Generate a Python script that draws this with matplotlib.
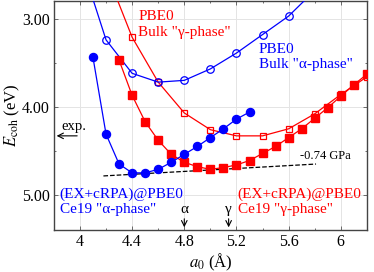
import matplotlib
matplotlib.use('Agg')
import matplotlib.pyplot as plt
from matplotlib.ticker import MultipleLocator

plt.rcParams['font.family'] = ['Liberation Serif', 'DejaVu Serif']
plt.rcParams['mathtext.fontset'] = 'stix'

# PBE0 bulk, alpha phase (open circles)
a_bulk_alpha = [4.0, 4.2, 4.4, 4.6, 4.8, 5.0, 5.2, 5.4, 5.6, 5.8]
e_bulk_alpha = [2.32, 3.24, 3.62, 3.72, 3.70, 3.57, 3.39, 3.18, 2.97, 2.68]

# PBE0 bulk, gamma phase (open squares)
a_bulk_gamma = [4.2, 4.4, 4.6, 4.8, 5.0, 5.2, 5.4, 5.6, 5.8, 6.0, 6.2]
e_bulk_gamma = [2.46, 3.21, 3.72, 4.07, 4.26, 4.33, 4.33, 4.25, 4.08, 3.86, 3.66]

# (EX+cRPA)@PBE0 Ce19, alpha phase (filled circles)
a_ce19_alpha = [4.1, 4.2, 4.3, 4.4, 4.5, 4.6, 4.7, 4.8, 4.9, 5.0, 5.1, 5.2, 5.3]
e_ce19_alpha = [3.44, 4.31, 4.65, 4.75, 4.75, 4.71, 4.63, 4.54, 4.45, 4.35,
                4.25, 4.14, 4.06]

# (EX+cRPA)@PBE0 Ce19, gamma phase (filled squares)
a_ce19_gamma = [4.3, 4.4, 4.5, 4.6, 4.7, 4.8, 4.9, 5.0, 5.1, 5.2, 5.3, 5.4,
                5.5, 5.6, 5.7, 5.8, 5.9, 6.0, 6.1, 6.2]
e_ce19_gamma = [3.47, 3.87, 4.17, 4.38, 4.54, 4.63, 4.68, 4.71, 4.69, 4.66,
                4.61, 4.53, 4.45, 4.35, 4.25, 4.13, 4.01, 3.88, 3.75, 3.63]

# common tangent (-0.74 GPa)
tangent_a = [4.18, 5.81]
tangent_e = [4.785, 4.65]

e_exp = 4.33
a_alpha_exp = 4.80
a_gamma_exp = 5.14

fig = plt.figure(figsize=(3.74, 2.72), dpi=100)
ax = fig.add_axes([0.144, 0.154, 0.837, 0.842])

ax.grid(True, color='#e4e4e4', lw=0.7, zorder=0)
ax.set_axisbelow(True)

ax.plot(tangent_a, tangent_e, 'k--', lw=0.9, zorder=2)
ax.plot(a_bulk_gamma, e_bulk_gamma, '-s', color='red', mfc='none', mec='red',
        ms=5, mew=0.9, lw=0.9, zorder=3)
ax.plot(a_bulk_alpha, e_bulk_alpha, '-o', color='blue', mfc='none', mec='blue',
        ms=5.4, mew=0.9, lw=0.9, zorder=3)
ax.plot(a_ce19_gamma, e_ce19_gamma, '-s', color='red', ms=5.2, lw=0.9, zorder=4)
ax.plot(a_ce19_alpha, e_ce19_alpha, '-o', color='blue', ms=5.8, lw=0.9, zorder=4)

ax.set_xlim(3.8, 6.2)
ax.set_ylim(5.4, 2.8)
ax.xaxis.set_major_locator(MultipleLocator(0.4))
ax.xaxis.set_minor_locator(MultipleLocator(0.2))
ax.yaxis.set_major_locator(MultipleLocator(1.0))
ax.yaxis.set_minor_locator(MultipleLocator(0.5))
ax.set_xticks([4.0, 4.4, 4.8, 5.2, 5.6, 6.0])
ax.set_xticklabels(['4', '4.4', '4.8', '5.2', '5.6', '6'])
ax.set_yticks([3.0, 4.0, 5.0])
ax.set_yticklabels(['3.00', '4.00', '5.00'])
ax.tick_params(which='both', direction='in', top=True, right=True,
               labelsize=11.5, width=0.6, color='#555555', pad=3)
ax.tick_params(which='major', length=3)
ax.tick_params(which='minor', length=1.5)
for s in ax.spines.values():
    s.set_color('#444444')
    s.set_linewidth(1.0)

ax.set_xlabel(r'$a_0$ (Å)', fontsize=12, labelpad=1)
ax.set_ylabel(r'$E_{\rm coh}$ (eV)', fontsize=12, labelpad=0)

fs = 11
ax.text(4.446, 2.98, 'PBE0', color='red', fontsize=fs, va='center')
ax.text(4.446, 3.16, 'Bulk "γ-phase"', color='red', fontsize=fs, va='center')
ax.text(5.369, 3.35, 'PBE0', color='blue', fontsize=fs, va='center')
ax.text(5.369, 3.52, 'Bulk "α-phase"', color='blue', fontsize=fs, va='center')
ax.text(3.846, 4.99, '(EX+cRPA)@PBE0', color='blue', fontsize=fs, va='center')
ax.text(3.846, 5.17, 'Ce19 "α-phase"', color='blue', fontsize=fs, va='center')
ax.text(5.208, 4.99, '(EX+cRPA)@PBE0', color='red', fontsize=fs, va='center')
ax.text(5.208, 5.17, 'Ce19 "γ-phase"', color='red', fontsize=fs, va='center')
ax.text(5.69, 4.56, '-0.74 GPa', color='black', fontsize=9, va='center')

ax.annotate('', xy=(3.8, e_exp), xytext=(4.0, e_exp),
            arrowprops=dict(arrowstyle='->', color='black', lw=0.8))
ax.text(3.854, 4.22, 'exp.', color='black', fontsize=10.5, va='center')

for a, lab in [(a_alpha_exp, 'α'), (a_gamma_exp, 'γ')]:
    ax.annotate('', xy=(a, 5.4), xytext=(a, 5.24),
                arrowprops=dict(arrowstyle='->', color='black', lw=0.8))
    ax.text(a, 5.17, lab, color='black', fontsize=11, ha='center', va='center')

fig.savefig('out.png', dpi=100)
